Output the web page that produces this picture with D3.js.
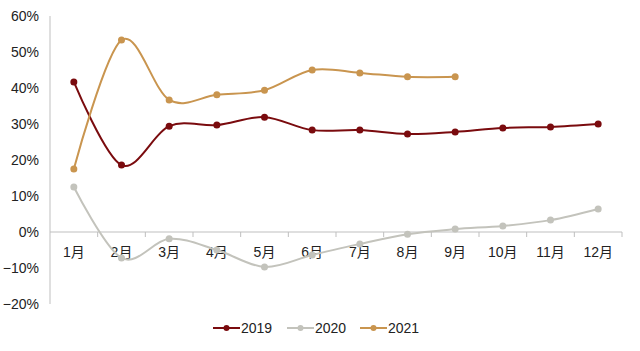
<!DOCTYPE html>
<html><head><meta charset="utf-8">
<script src="https://cdn.jsdelivr.net/npm/d3@7"></script>
<style>body{margin:0;background:#fff}svg{display:block}text{font-family:"Liberation Sans","Noto Sans CJK SC",sans-serif;fill:#222}</style>
</head><body><svg id="c" width="640" height="351"></svg>
<script>
const months = ["1月","2月","3月","4月","5月","6月","7月","8月","9月","10月","11月","12月"];
const s2019 = [41.7,18.6,29.4,29.7,31.9,28.3,28.3,27.2,27.8,28.9,29.2,30.0];
const s2020 = [12.5,-7.2,-1.9,-5.0,-9.7,-6.4,-3.3,-0.6,0.8,1.7,3.3,6.4];
const s2021 = [17.5,53.3,36.7,38.1,39.4,45.0,44.2,43.1,43.1];
const yTicks = [-20,-10,0,10,20,30,40,50,60];
const seriesNames = ["2019","2020","2021"];
const colors = ["#7a0b0e","#c3c3bc","#c9954f"];
const series = [s2019,s2020,s2021];

const svg = d3.select("#c");
const x = d3.scaleBand().domain(months).range([50,622]);
const y = d3.scaleLinear().domain([-20,60]).range([304,16]);

svg.append("line").attr("x1",50).attr("x2",50).attr("y1",y(60)).attr("y2",y(-20)).attr("stroke","#bfbfbf");
svg.selectAll(".yt").data(yTicks).enter().append("text")
  .attr("x",39).attr("y",d=>y(d)+5).attr("text-anchor","end").attr("font-size",14).text(d=>(d<0?"\u2212"+(-d):d)+"%");
svg.append("line").attr("x1",50).attr("x2",622).attr("y1",y(0)).attr("y2",y(0)).attr("stroke","#bfbfbf");
const bounds = months.map(m=>x(m)+x.bandwidth());
svg.selectAll(".xt").data(bounds).enter().append("line")
  .attr("x1",d=>d).attr("x2",d=>d).attr("y1",y(0)).attr("y2",y(0)+5).attr("stroke","#bfbfbf");
svg.selectAll(".xl").data(months).enter().append("text")
  .attr("x",d=>x(d)+x.bandwidth()/2).attr("y",y(0)+25).attr("text-anchor","middle").attr("font-size",14).text(d=>d);

const line = d3.line().x((d,i)=>x(months[i])+x.bandwidth()/2).y(d=>y(d)).curve(d3.curveCatmullRom.alpha(0));
series.forEach((s,k)=>{
  svg.append("path").attr("d",line(s)).attr("fill","none").attr("stroke",colors[k]).attr("stroke-width",2);
  svg.selectAll(".p"+k).data(s).enter().append("circle")
    .attr("cx",(d,i)=>x(months[i])+x.bandwidth()/2).attr("cy",d=>y(d)).attr("r",3.5).attr("fill",colors[k]);
});

const lx = [213,287,360];
seriesNames.forEach((n,k)=>{
  const g = svg.append("g").attr("transform",`translate(${lx[k]},328)`);
  g.append("line").attr("x1",0).attr("x2",27).attr("stroke",colors[k]).attr("stroke-width",2);
  g.append("circle").attr("cx",13.5).attr("r",3).attr("fill",colors[k]);
  g.append("text").attr("x",28).attr("y",5).attr("font-size",14).text(n);
});
</script></body></html>
